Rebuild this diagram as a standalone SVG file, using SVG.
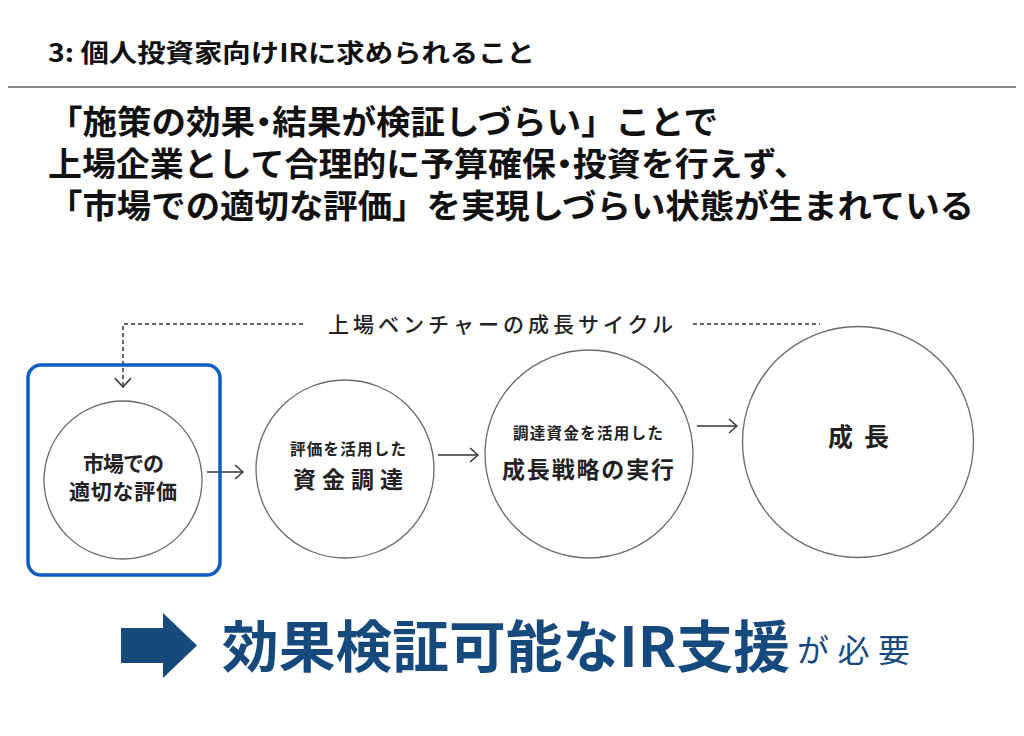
<svg xmlns="http://www.w3.org/2000/svg" width="1024" height="736" viewBox="0 0 1024 736">
<style>
.jp{font-family:"Noto Sans CJK JP","Noto Sans CJK SC",sans-serif;}
.head{font-weight:700;fill:#111;}
.palt{font-feature-settings:"palt" 1;}
.node{fill:#fff;stroke:#6a6a6a;stroke-width:1.3;}
.nt{font-family:"Noto Sans CJK JP",sans-serif;font-weight:700;fill:#222;}
.conn{fill:none;stroke:#333;stroke-width:1.5;}
.dash{fill:none;stroke:#333;stroke-width:1.5;stroke-dasharray:4 3;}
.navy{fill:#174A7C;}
</style>
<defs>
<marker id="chev" viewBox="0 0 10 16" markerWidth="10" markerHeight="16" refX="9" refY="8" orient="auto" markerUnits="userSpaceOnUse">
<path d="M1,1 L9,8 L1,15" fill="none" stroke="#333" stroke-width="1.5"/>
</marker>
</defs>
<rect width="1024" height="736" fill="#fff"/>
<g id="title">
<text class="jp head" x="48" y="62" font-size="25" textLength="487" lengthAdjust="spacingAndGlyphs">3: 個人投資家向けIRに求められること</text>
<line x1="8" y1="87" x2="1016" y2="87" stroke="#666" stroke-width="1.5"/>
</g>
<g id="heading" class="jp head" font-size="33">
<text x="48" y="134" textLength="670" lengthAdjust="spacingAndGlyphs">「施策の効果<tspan class="palt">・</tspan>結果が検証しづらい」ことで</text>
<text x="48" y="176" textLength="760" lengthAdjust="spacingAndGlyphs">上場企業として合理的に予算確保<tspan class="palt">・</tspan>投資を行えず、</text>
<text x="48" y="218" textLength="926" lengthAdjust="spacingAndGlyphs">「市場での適切な評価」を実現しづらい状態が生まれている</text>
</g>
<g id="connectors">
<path class="dash" d="M303,324 H123 V385"/>
<path d="M115,378 L123,387 L131,378" fill="none" stroke="#333" stroke-width="1.5"/>
<line class="dash" x1="693" y1="324" x2="820" y2="324"/>
<line class="conn" x1="207" y1="472" x2="243" y2="472" marker-end="url(#chev)"/>
<line class="conn" x1="438" y1="455" x2="478" y2="455" marker-end="url(#chev)"/>
<line class="conn" x1="697" y1="426" x2="737" y2="426" marker-end="url(#chev)"/>
</g>
<g id="cycle-label">
<text class="jp" x="328" y="332" font-size="21" font-weight="500" fill="#222" textLength="345" lengthAdjust="spacing">上場ベンチャーの成長サイクル</text>
</g>
<g id="node1">
<rect x="28" y="365" width="192" height="210" rx="13" fill="none" stroke="#0F5CC2" stroke-width="3.5"/>
<circle class="node" cx="123" cy="480" r="79"/>
<text class="nt" x="83" y="471" font-size="21" textLength="81" lengthAdjust="spacing">市場での</text>
<text class="nt" x="69" y="499" font-size="21" textLength="108" lengthAdjust="spacing">適切な評価</text>
</g>
<g id="node2">
<circle class="node" cx="345" cy="469" r="89"/>
<text class="nt" x="290" y="455" font-size="15.5" textLength="116" lengthAdjust="spacing">評価を活用した</text>
<text class="nt" x="293" y="488" font-size="23" textLength="110" lengthAdjust="spacing">資金調達</text>
</g>
<g id="node3">
<circle class="node" cx="589" cy="454" r="104"/>
<text class="nt" x="513" y="439" font-size="15.5" textLength="150" lengthAdjust="spacing">調達資金を活用した</text>
<text class="nt" x="502" y="478" font-size="23" textLength="172" lengthAdjust="spacing">成長戦略の実行</text>
</g>
<g id="node4">
<circle class="node" cx="858" cy="442" r="115.5"/>
<text class="nt" x="828" y="446" font-size="25" textLength="61" lengthAdjust="spacing">成長</text>
</g>
<g id="conclusion">
<polygon class="navy" points="121,628 163,628 163,613 197,645.5 163,678 163,663 121,663"/>
<text class="jp navy" x="222" y="667" font-size="56" font-weight="700" textLength="568" lengthAdjust="spacingAndGlyphs">効果検証可能なIR支援</text>
<text class="jp navy" x="797" y="662" font-size="32" font-weight="400" textLength="113" lengthAdjust="spacing">が必要</text>
</g>
</svg>
